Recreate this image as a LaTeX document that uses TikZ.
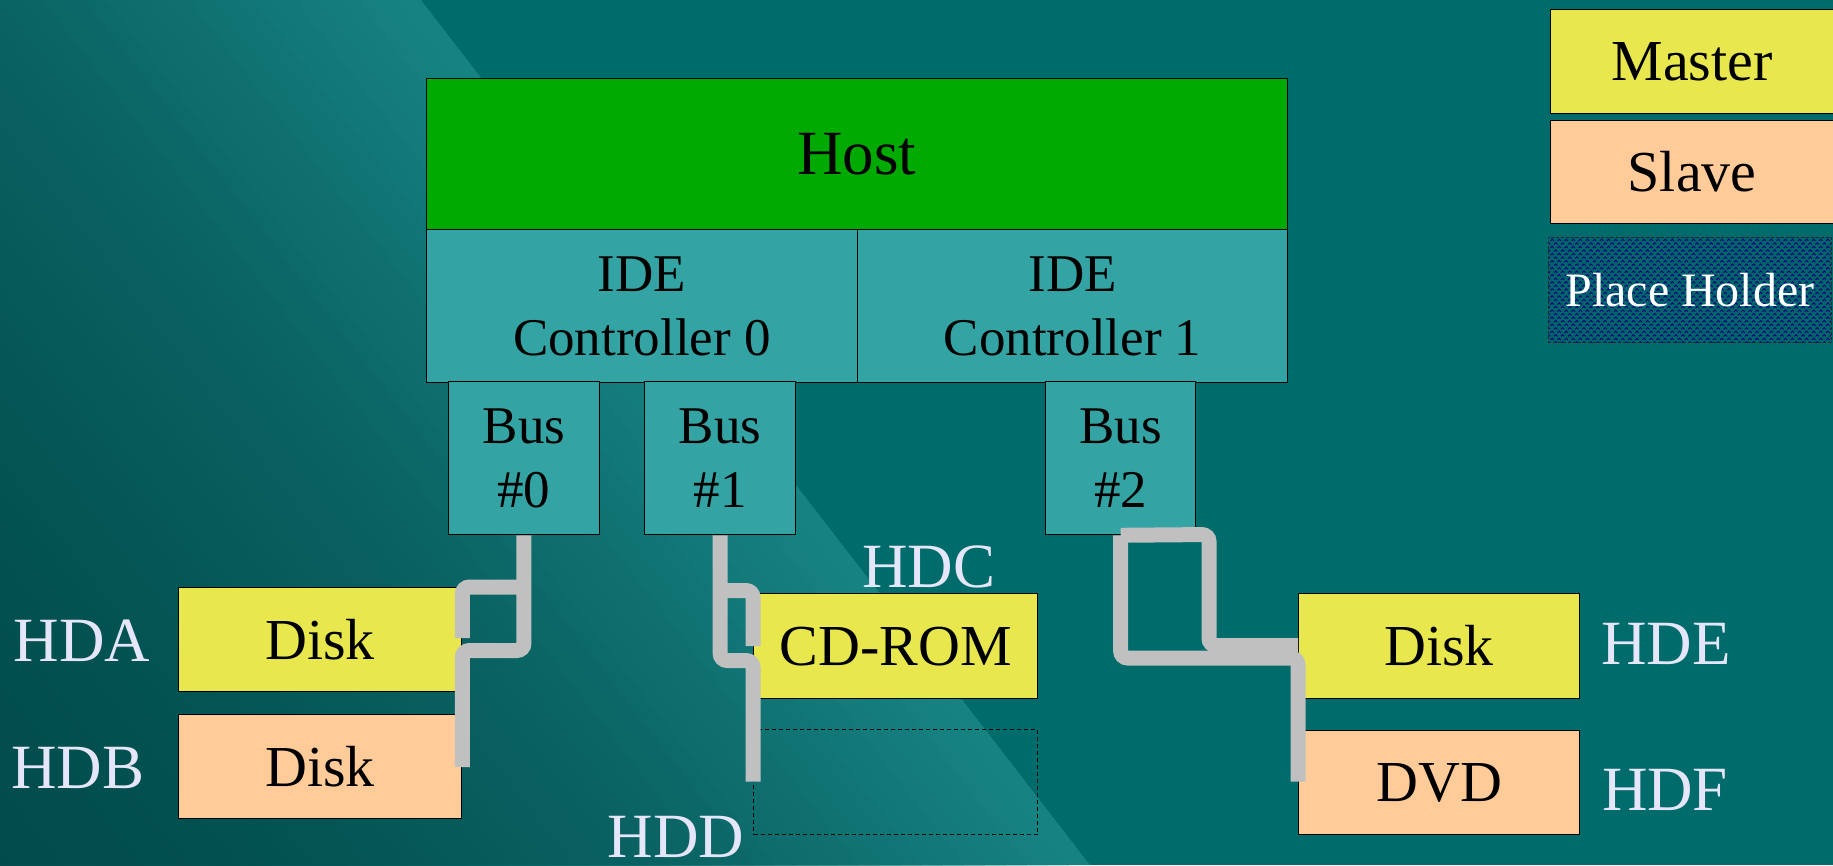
\documentclass[tikz,border=0pt]{standalone}
\usepackage{fontspec}
\setmainfont{Liberation Serif}
\usetikzlibrary{calc,patterns.meta}
\definecolor{bgbase}{HTML}{006B6B}
\definecolor{bglight}{HTML}{178282}
\definecolor{bgmid}{HTML}{0A6262}
\definecolor{bgmidb}{HTML}{035151}
\definecolor{bgdark}{HTML}{014A4A}
\definecolor{hostgreen}{HTML}{00AA00}
\definecolor{idecol}{HTML}{33A3A3}
\definecolor{mastercol}{HTML}{E8E84E}
\definecolor{slavecol}{HTML}{FFCC99}
\definecolor{lblcol}{HTML}{E6E6FA}
\definecolor{cablecol}{HTML}{C0C0C0}
\definecolor{navycol}{HTML}{000080}
\definecolor{phbg}{HTML}{00656A}
\begin{document}
\begin{tikzpicture}[x=1pt,y=-1pt,
  box/.style={draw=black, line width=1.3pt, inner sep=0pt, anchor=north west, align=center},
  devtext/.style={font=\fontsize{58}{70}\selectfont},
  idetext/.style={font=\fontsize{53}{64}\selectfont},
  lbl/.style={text=lblcol, inner sep=0pt, font=\fontsize{63}{70}\selectfont},
  cable/.style={draw=cablecol, line width=15pt, rounded corners=7pt},
  dashbox/.style={draw=black, line width=1.2pt, dash pattern=on 4pt off 3pt, inner sep=0pt, anchor=north west}]
\useasboundingbox (0,0) rectangle (1833,865);
% background
\fill[bgbase] (0,0) rectangle (1833,865);
\begin{scope}
\clip (0,0) -- (421,0) -- (1090,865) -- (0,865) -- cycle;
\foreach \ta/\tb/\ca/\cb in {0/333/bglight/bgmid, 333/650/bgmid/bgmidb, 650/900/bgmidb/bgdark} {
  \foreach \k in {0,...,19} {
    \pgfmathsetmacro\t{\ta+\k*(\tb-\ta)/20}
    \pgfmathtruncatemacro\p{100*(1-\k/20)}
    \fill[\ca!\p!\cb]
      ({421-0.7910*\t-0.6118*1500},{0.6118*\t-0.7910*1500}) --
      ({421-0.7910*\t+0.6118*1500},{0.6118*\t+0.7910*1500}) --
      ({421-0.7910*1200+0.6118*1500},{0.6118*1200+0.7910*1500}) --
      ({421-0.7910*1200-0.6118*1500},{0.6118*1200-0.7910*1500}) -- cycle;
  }
}
\end{scope}
% host and controllers
\node[box, fill=hostgreen, minimum width=861.5pt, minimum height=151pt, font=\fontsize{63}{70}\selectfont] (host) at (425.5,78) {Host};
\node[box, fill=idecol, minimum width=431.5pt, minimum height=153pt, idetext] (ide0) at (425.5,229) {IDE\\Controller 0};
\node[box, fill=idecol, minimum width=430pt, minimum height=153pt, idetext] (ide1) at (857,229) {IDE\\Controller 1};
\node[box, fill=idecol, minimum width=150.5pt, minimum height=153pt, idetext] (bus0) at (448,381) {Bus\\\#0};
\node[box, fill=idecol, minimum width=151pt, minimum height=153pt, idetext] (bus1) at (644,381) {Bus\\\#1};
\node[box, fill=idecol, minimum width=150pt, minimum height=153pt, idetext] (bus2) at (1045,381) {Bus\\\#2};
% legend
\node[box, fill=mastercol, minimum width=290pt, minimum height=104pt, devtext] (master) at (1550,9) {Master\hspace*{7pt}};
\node[box, fill=slavecol, minimum width=290pt, minimum height=103pt, devtext] (slave) at (1550,120) {Slave\hspace*{7pt}};
\node[box, draw=black!85, line width=1pt, dash pattern=on 3pt off 2pt, preaction={fill=phbg},
  pattern={Hatch[angle=45,distance=5pt,line width=0.9pt]}, pattern color=navycol,
  minimum width=283pt, minimum height=105pt, text=white, font=\fontsize{48}{56}\selectfont] (ph) at (1548,237) {Place Holder};
% devices
\node[box, fill=mastercol, minimum width=283pt, minimum height=104pt, devtext] (hda) at (178,587) {Disk};
\node[box, fill=slavecol, minimum width=283pt, minimum height=104pt, devtext] (hdb) at (178,714) {Disk};
\node[box, fill=mastercol, minimum width=284pt, minimum height=105pt, devtext] (hdc) at (753,593) {CD-ROM};
\node[dashbox, minimum width=284pt, minimum height=105pt] (hdd) at (753,729) {};
\node[box, fill=mastercol, minimum width=281pt, minimum height=105pt, devtext] (hde) at (1298,593) {Disk};
\node[box, fill=slavecol, minimum width=281pt, minimum height=104pt, devtext] (hdf) at (1298,730) {DVD};
% labels
\node[lbl] (lhda) at (82,641) {HDA};
\node[lbl] (lhdb) at (78,768) {HDB};
\node[lbl] (lhdc) at (929,567) {HDC};
\node[lbl] (lhdd) at (676,837) {HDD};
\node[lbl] (lhde) at (1666,644) {HDE};
\node[lbl] (lhdf) at (1665,790) {HDF};
% cable levels
\coordinate (y0a) at (0,587);
\coordinate (y0b) at (0,638);
\coordinate (y0c) at (0,650.5);
\coordinate (y0d) at (0,767);
\coordinate (y1a) at (0,590.5);
\coordinate (y1b) at (0,646);
\coordinate (y1c) at (0,660.5);
\coordinate (y1d) at (0,781.7);
\coordinate (x2a) at (1209,0);
\coordinate (y2a) at (0,534.5);
\coordinate (y2b) at (0,645.5);
\coordinate (y2c) at (0,658);
\coordinate (y2d) at (0,781.7);
% cable bus 0
\draw[cable] (bus0.south) -- (bus0.south |- y0c) -- (hda.east |- y0c) -- (hda.east |- y0d);
\draw[cable] (bus0.south |- y0a) -- (hda.east |- y0a) -- (hda.east |- y0b);
% cable bus 1
\draw[cable] (bus1.south) -- (bus1.south |- y1c) -- (hdc.west |- y1c) -- (hdc.west |- y1d);
\draw[cable] (bus1.south |- y1a) -- (hdc.west |- y1a) -- (hdc.west |- y1b);
% cable bus 2
\draw[cable] (bus2.south) -- (x2a |- y2a) -- (x2a |- y2b) -- (hde.west |- y2b);
\draw[cable] (bus2.south) -- (bus2.south |- y2c) -- (hdf.west |- y2c) -- (hdf.west |- y2d);
\end{tikzpicture}
\end{document}
